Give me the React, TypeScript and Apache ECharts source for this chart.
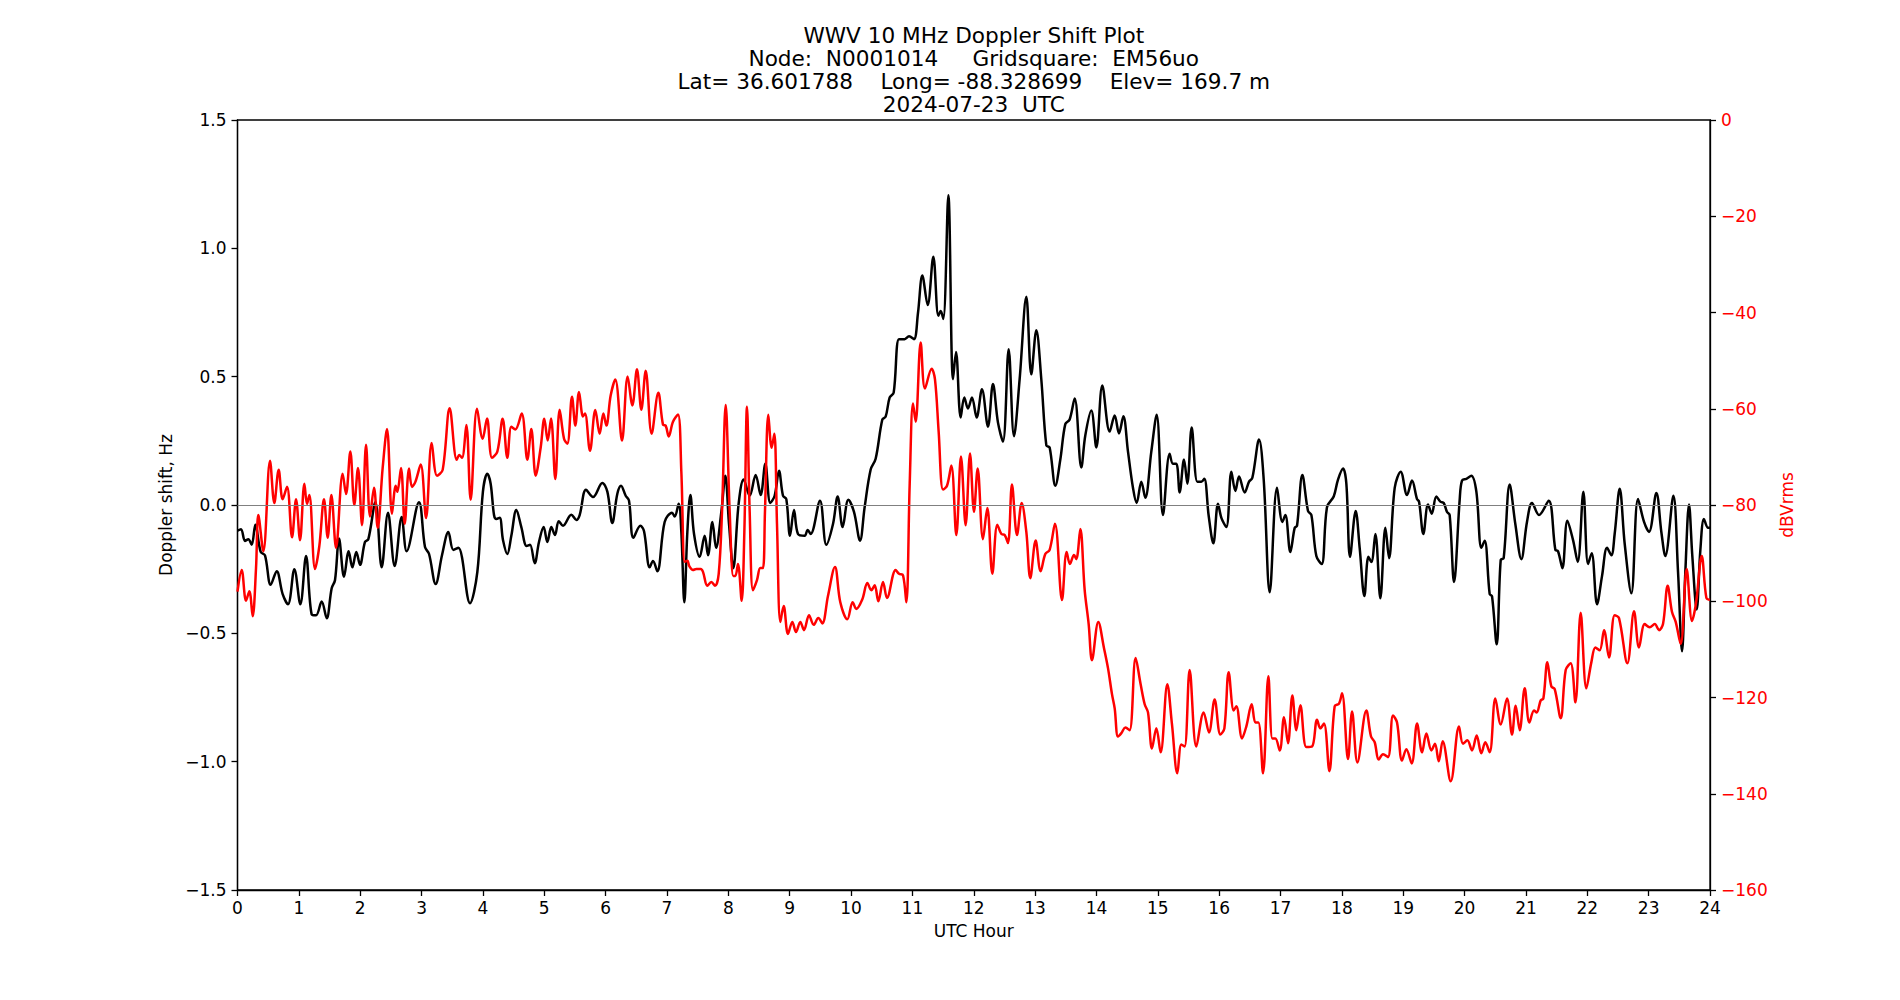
import React, { useEffect, useRef } from "react";
import * as echarts from "echarts";

// ---- Title lines ----
const titleLines: string[] = [
  "WWV 10 MHz Doppler Shift Plot",
  "Node:  N0001014     Gridsquare:  EM56uo",
  "Lat= 36.601788    Long= -88.328699    Elev= 169.7 m",
  "2024-07-23  UTC",
];

// ---- Axis settings (values) ----
const hourTicks = { min: 0, max: 24, interval: 1 };
const dopplerTicks = { min: -1.5, max: 1.5, interval: 0.5 };
const powerTicks = { min: -160, max: 0, interval: 20 };

// ---- Doppler shift (Hz) vs UTC hour (black) ----
const dopplerData: [number, number][] = [
  [0, -0.1], [0.057, -0.094], [0.122, -0.14], [0.177, -0.133], [0.231, -0.155], [0.291, -0.077], [0.378, -0.183], [0.448, -0.196],
  [0.541, -0.311], [0.639, -0.258], [0.736, -0.347], [0.823, -0.387], [0.927, -0.25], [1.024, -0.387], [1.117, -0.199], [1.209, -0.426],
  [1.28, -0.43], [1.372, -0.376], [1.454, -0.441], [1.535, -0.324], [1.589, -0.293], [1.655, -0.131], [1.736, -0.28], [1.812, -0.18],
  [1.872, -0.243], [1.937, -0.183], [1.997, -0.233], [2.078, -0.144], [2.133, -0.133], [2.247, 0.011], [2.35, -0.243], [2.453, -0.03],
  [2.562, -0.238], [2.676, -0.047], [2.757, -0.18], [2.958, 0.011], [3.056, -0.164], [3.121, -0.19], [3.23, -0.308], [3.333, -0.196],
  [3.437, -0.105], [3.518, -0.175], [3.6, -0.167], [3.79, -0.383], [3.909, -0.261],
  [4.0, 0.052], [4.072, 0.122], [4.126, 0.083], [4.181, -0.039], [4.219, -0.055], [4.273, -0.05], [4.327, -0.136], [4.398, -0.191],
  [4.463, -0.12], [4.545, -0.019], [4.626, -0.086], [4.713, -0.16], [4.768, -0.155], [4.844, -0.227], [4.914, -0.144], [4.99, -0.086],
  [5.05, -0.144], [5.115, -0.086], [5.175, -0.117], [5.235, -0.063], [5.305, -0.081], [5.441, -0.038], [5.523, -0.058], [5.577, -0.039],
  [5.68, 0.059], [5.794, 0.031], [5.946, 0.086], [6.028, 0.052], [6.109, -0.07], [6.191, 0.044], [6.251, 0.075], [6.327, 0.036],
  [6.381, 0.017], [6.452, -0.128], [6.566, -0.081], [6.626, -0.102], [6.718, -0.243], [6.772, -0.218], [6.843, -0.258], [6.962, -0.066],
  [7.082, -0.03], [7.125, -0.045], [7.191, 0.005], [7.234, -0.105], [7.283, -0.379], [7.332, -0.105], [7.381, 0.039], [7.441, -0.113],
  [7.533, -0.202], [7.614, -0.12], [7.669, -0.196], [7.74, -0.066], [7.8, -0.167], [7.886, -0.027], [7.951, 0.114],
  [8.011, -0.074], [8.081, -0.246], [8.168, 0.005], [8.25, 0.099], [8.348, 0.036], [8.445, 0.117], [8.527, 0.039], [8.603, 0.161],
  [8.684, 0.008], [8.755, 0.036], [8.826, 0.133], [8.891, 0.036], [8.945, 0.023], [9.005, -0.12], [9.07, -0.019], [9.135, -0.113],
  [9.244, -0.12], [9.293, -0.097], [9.342, -0.113], [9.494, 0.017], [9.597, -0.155], [9.706, -0.074], [9.782, 0.033], [9.863, -0.086],
  [9.956, 0.02], [10.048, -0.027], [10.146, -0.139], [10.222, -0.008], [10.32, 0.138], [10.401, 0.18], [10.51, 0.333], [10.564, 0.344],
  [10.63, 0.419], [10.695, 0.438], [10.782, 0.646], [10.874, 0.646], [10.945, 0.657], [11.026, 0.646], [11.091, 0.748], [11.162, 0.894],
  [11.249, 0.779], [11.341, 0.967], [11.423, 0.737], [11.461, 0.756], [11.504, 0.725], [11.586, 1.207], [11.662, 0.49], [11.711, 0.596],
  [11.787, 0.341], [11.846, 0.419], [11.906, 0.376],
  [11.971, 0.419], [12.047, 0.341], [12.134, 0.451], [12.232, 0.305], [12.313, 0.471], [12.395, 0.321], [12.476, 0.247], [12.569, 0.607],
  [12.656, 0.268], [12.748, 0.49], [12.857, 0.811], [12.938, 0.509], [13.02, 0.681], [13.101, 0.49], [13.183, 0.232], [13.237, 0.224],
  [13.33, 0.075], [13.411, 0.177], [13.492, 0.315], [13.563, 0.333], [13.645, 0.415], [13.753, 0.146], [13.818, 0.271], [13.916, 0.368],
  [13.998, 0.224], [14.095, 0.466], [14.215, 0.286], [14.297, 0.349], [14.367, 0.279], [14.438, 0.346], [14.514, 0.208], [14.595, 0.067],
  [14.655, 0.008], [14.731, 0.091], [14.796, 0.028], [14.894, 0.208], [14.981, 0.352], [15.084, -0.039], [15.193, 0.2], [15.247, 0.161],
  [15.302, 0.161], [15.356, 0.049], [15.427, 0.177], [15.481, 0.083], [15.552, 0.302], [15.644, 0.091], [15.709, 0.091], [15.758, 0.102],
  [15.829, -0.042], [15.905, -0.149],
  [15.981, 0.005], [16.036, -0.05], [16.117, -0.086], [16.199, 0.13], [16.264, 0.055], [16.324, 0.111], [16.416, 0.049], [16.487, 0.091],
  [16.541, 0.106], [16.65, 0.255], [16.726, 0.099], [16.824, -0.34], [16.943, 0.067], [17.03, -0.066], [17.079, -0.039], [17.16, -0.183],
  [17.231, -0.089], [17.269, -0.081], [17.356, 0.117], [17.448, -0.023], [17.503, -0.039], [17.584, -0.199], [17.671, -0.23], [17.758, -0.008],
  [17.867, 0.033], [17.937, 0.099], [18.019, 0.142], [18.073, 0.083], [18.133, -0.202], [18.225, -0.023], [18.29, -0.167], [18.367, -0.355],
  [18.432, -0.202], [18.481, -0.222], [18.546, -0.113], [18.627, -0.363], [18.709, -0.089], [18.769, -0.207], [18.861, 0.067], [18.959, 0.13],
  [19.062, 0.039], [19.143, 0.095], [19.225, 0.023], [19.258, 0.013], [19.328, -0.113], [19.404, 0.002], [19.464, -0.034], [19.54, 0.033],
  [19.605, 0.013], [19.66, 0.008], [19.714, -0.027], [19.757, -0.039], [19.828, -0.3], [19.92, 0.02],
  [19.958, 0.095], [20.029, 0.102], [20.11, 0.114], [20.192, 0.052], [20.273, -0.167], [20.328, -0.139], [20.409, -0.347], [20.447, -0.355],
  [20.523, -0.543], [20.589, -0.214], [20.637, -0.207], [20.735, 0.08], [20.827, -0.074], [20.925, -0.211], [21.017, -0.066], [21.099, 0.008],
  [21.213, -0.039], [21.371, 0.017], [21.48, -0.175], [21.523, -0.18], [21.594, -0.246], [21.675, -0.061], [21.767, -0.136], [21.844, -0.222],
  [21.936, 0.052], [22.012, -0.23], [22.072, -0.188], [22.159, -0.387], [22.24, -0.277], [22.322, -0.167], [22.392, -0.196], [22.446, -0.113],
  [22.528, 0.063], [22.61, -0.152], [22.718, -0.344], [22.827, 0.023], [22.925, -0.066], [23.006, -0.105], [23.126, 0.047], [23.207, -0.105],
  [23.272, -0.199], [23.403, 0.036], [23.479, -0.261], [23.544, -0.57], [23.598, -0.261], [23.658, 0.002], [23.712, -0.199], [23.783, -0.407],
  [23.843, -0.175], [23.902, -0.055], [23.968, -0.089], [24.0, -0.089],
];

// ---- Signal level (dBVrms) vs UTC hour (red) ----
const powerData: [number, number][] = [
  [0, -98], [0.068, -93.5], [0.139, -99.9], [0.193, -97.9], [0.247, -103.1], [0.302, -93.1], [0.34, -82.1], [0.421, -89.6],
  [0.53, -70.8], [0.6, -79.6], [0.671, -72.7], [0.736, -78.8], [0.807, -76.2], [0.889, -86.7], [0.954, -78.8], [1.019, -87.3],
  [1.09, -75.6], [1.133, -79.8], [1.171, -77.9], [1.264, -93.3], [1.334, -88.5], [1.41, -78.8], [1.47, -86.8], [1.53, -77.9],
  [1.606, -88.9], [1.714, -73.5], [1.769, -77.7], [1.839, -68.9], [1.904, -80], [1.964, -72.3], [2.03, -84.2], [2.095, -67.5],
  [2.16, -82.4], [2.225, -76.4], [2.285, -84.75], [2.366, -72.3], [2.437, -64.2], [2.518, -81.8], [2.578, -76], [2.605, -77.25],
  [2.665, -72.3], [2.725, -83.9], [2.796, -72.4], [2.844, -76.25], [2.899, -75.2], [2.986, -71.6], [3.073, -82.7], [3.165, -67.1],
  [3.252, -73.9], [3.344, -72.7], [3.458, -59.9], [3.573, -70.6], [3.616, -69.6], [3.66, -70.2], [3.73, -63.4], [3.8, -78.9],
  [3.904, -60],
  [3.996, -66.25], [4.067, -62], [4.148, -70.2], [4.235, -68.9], [4.322, -62.1], [4.398, -70.2], [4.463, -63.75], [4.528, -64.3],
  [4.632, -61], [4.724, -70.6], [4.789, -64.2], [4.86, -73.9], [4.941, -68.1], [5.001, -62.1], [5.056, -66.6], [5.11, -62],
  [5.18, -74.6], [5.251, -60.2], [5.322, -66.25], [5.376, -67.25], [5.452, -57.5], [5.506, -63.5], [5.566, -56.5], [5.631, -61.6],
  [5.664, -61], [5.745, -68.75], [5.832, -60.25], [5.903, -65.2], [5.963, -61], [6.012, -63.5], [6.082, -57.25], [6.158, -53.9],
  [6.267, -66.6], [6.359, -53.3], [6.436, -59.3], [6.511, -51.8], [6.582, -60.2], [6.653, -52.1], [6.75, -65.2], [6.859, -56.7],
  [6.935, -63.3], [6.979, -63.5], [7.028, -65.75], [7.098, -62.7], [7.18, -61.2], [7.234, -73.1], [7.289, -91.8], [7.332, -91.6],
  [7.364, -92.7], [7.424, -93.5], [7.479, -93.3], [7.55, -93.3], [7.587, -93.9], [7.658, -96.8], [7.723, -96], [7.783, -96.8],
  [7.843, -94.3], [7.897, -81.4], [7.957, -59.2],
  [8.022, -81.4], [8.081, -94.75], [8.114, -94.75], [8.157, -92.25], [8.217, -99.9], [8.261, -85.6], [8.304, -59.6], [8.348, -81.4],
  [8.402, -97.7], [8.467, -95.6], [8.521, -93.1], [8.565, -93.1], [8.597, -81.4], [8.652, -61.25], [8.706, -68.1], [8.75, -65.2],
  [8.793, -83.9], [8.848, -104.3], [8.902, -101], [8.972, -106.8], [9.043, -104.3], [9.103, -106.4], [9.173, -104.3], [9.233, -106],
  [9.315, -102.9], [9.391, -104.9], [9.467, -103.5], [9.532, -104.6], [9.624, -98.9], [9.738, -92.9], [9.825, -100.2], [9.94, -103.75],
  [10.026, -100.2], [10.086, -101.6], [10.184, -99.6], [10.266, -96.2], [10.331, -97.7], [10.385, -96.7], [10.445, -100], [10.521, -96],
  [10.586, -99.3], [10.727, -93.5], [10.782, -94.3], [10.847, -94.6], [10.901, -100.2], [10.956, -75.6], [11.01, -58.9], [11.053, -62.7],
  [11.135, -46.25], [11.205, -55.8], [11.314, -51.7], [11.368, -53.9], [11.428, -64.75], [11.499, -76.8], [11.564, -76], [11.635, -71.8],
  [11.716, -86.25], [11.792, -69.9], [11.868, -84.2], [11.939, -69.3],
  [12.004, -81.4], [12.064, -72.4], [12.15, -87.1], [12.221, -80.6], [12.303, -94.3], [12.384, -84.1], [12.449, -86], [12.504, -86.25],
  [12.558, -87.9], [12.623, -75.75], [12.705, -86.25], [12.781, -79.6], [12.857, -85.6], [12.922, -95.2], [13.009, -87.4], [13.09, -93.75],
  [13.166, -90.2], [13.237, -89.3], [13.324, -83.9], [13.438, -99.75], [13.514, -89.75], [13.568, -92.25], [13.634, -90.4], [13.672, -91.25],
  [13.737, -85], [13.808, -97.7], [13.873, -104.75], [13.927, -112.25], [14.03, -104.3], [14.123, -109.75], [14.188, -113.9], [14.253, -119.3],
  [14.297, -122.25], [14.351, -128.1], [14.406, -127.4], [14.471, -126.25], [14.541, -126.8], [14.639, -111.8], [14.72, -117.25], [14.786, -121.4],
  [14.84, -123.1], [14.905, -130.6], [14.976, -126.4], [15.046, -131.4], [15.155, -117.25], [15.231, -125.6], [15.318, -135.75], [15.383, -129.75],
  [15.437, -130.2], [15.519, -114.3], [15.628, -130.2], [15.747, -123.1], [15.834, -127.25], [15.926, -120.4],
  [16.02, -127.7], [16.085, -126.4], [16.155, -114.75], [16.237, -122.7], [16.28, -121.8], [16.373, -128.5], [16.443, -126], [16.53, -121.4],
  [16.59, -125.2], [16.639, -125.2], [16.715, -135.75], [16.802, -115.6], [16.867, -128.5], [16.916, -128.5], [16.987, -131], [17.057, -124.1],
  [17.122, -129.5], [17.193, -119.6], [17.258, -126.8], [17.323, -121.6], [17.421, -130.3], [17.514, -130.2], [17.595, -124.6], [17.649, -126.4],
  [17.709, -125.4], [17.796, -135.3], [17.883, -121.8], [17.954, -121.25], [18.003, -119.1], [18.1, -132.8], [18.166, -122.9], [18.253, -133.5],
  [18.399, -122.7], [18.475, -128.1], [18.535, -129.3], [18.6, -132.9], [18.671, -131.8], [18.752, -132.4], [18.834, -123.75], [18.899, -125.2],
  [18.98, -133.1], [19.051, -130.75], [19.138, -133.7], [19.225, -125.4], [19.307, -131.4], [19.377, -127.5], [19.459, -131], [19.518, -129.6],
  [19.578, -133.25], [19.643, -129.1], [19.774, -137.4], [19.909, -126],
  [19.974, -129.6], [20.045, -128.9], [20.121, -131], [20.197, -127.9], [20.273, -131.6], [20.338, -129.3], [20.409, -131.4], [20.501, -120.2],
  [20.589, -125.6], [20.692, -120.2], [20.773, -127.7], [20.833, -121.7], [20.898, -126.8], [20.98, -118.1], [21.056, -125.2], [21.132, -122.7],
  [21.175, -123.1], [21.241, -120.6], [21.284, -120.2], [21.349, -112.7], [21.414, -117.7], [21.469, -118.25], [21.566, -124.3], [21.648, -114.3],
  [21.729, -112.9], [21.806, -121], [21.892, -102.4], [21.985, -118.1], [22.066, -112.7], [22.132, -109.6], [22.202, -110.2], [22.273, -106],
  [22.354, -111.7], [22.446, -102.9], [22.517, -103.5], [22.653, -112.9], [22.762, -102.1], [22.843, -109.6], [22.936, -104.75], [23.017, -105.4],
  [23.099, -104.75], [23.169, -106], [23.234, -104.75], [23.31, -96.8], [23.381, -102.25], [23.441, -104.3], [23.522, -108.9], [23.62, -93.3],
  [23.707, -104.1], [23.772, -100.4], [23.865, -90.6], [23.941, -99.3], [24.0, -99.75],
];

const FONT = "'DejaVu Sans', 'Liberation Sans', sans-serif";
const TICK_SIZE = 17;

function fmt(v: number, digits: number): string {
  if (Math.abs(v) < 1e-9) return (0).toFixed(digits);
  return v < 0 ? "\u2212" + Math.abs(v).toFixed(digits) : v.toFixed(digits);
}

export default function App() {
  const ref = useRef<HTMLDivElement>(null);

  useEffect(() => {
    if (!ref.current) return;
    const chart = echarts.init(ref.current, null, { renderer: "svg" });
    const plotCenterX = 237.5 + (1710 - 237.5) / 2;
    const titleY = [35.5, 58.5, 81.5, 104.5];

    chart.setOption({
      animation: false,
      backgroundColor: "#ffffff",
      textStyle: { fontFamily: FONT },
      grid: {
        left: 237.5,
        right: 190,
        top: 120,
        bottom: 110,
        show: true,
        borderColor: "#000",
        borderWidth: 1.3,
        backgroundColor: "transparent",
      },
      graphic: titleLines.map((t, i) => ({
        type: "text",
        x: plotCenterX,
        y: titleY[i],
        silent: true,
        style: {
          text: t,
          fill: "#000",
          fontSize: 21.6,
          fontFamily: FONT,
          textAlign: "center",
          textVerticalAlign: "middle",
          align: "center",
          verticalAlign: "middle",
        },
      })),
      xAxis: {
        type: "value",
        min: hourTicks.min,
        max: hourTicks.max,
        interval: hourTicks.interval,
        name: "UTC Hour",
        nameLocation: "middle",
        nameGap: 32,
        nameTextStyle: { color: "#000", fontSize: TICK_SIZE, fontFamily: FONT },
        axisLine: { show: true, onZero: false, lineStyle: { color: "#000", width: 1.3 } },
        axisTick: { show: true, inside: false, length: 6, lineStyle: { color: "#000", width: 1.3 } },
        axisLabel: { color: "#000", fontSize: TICK_SIZE, fontFamily: FONT, margin: 9 },
        splitLine: { show: false },
      },
      yAxis: [
        {
          type: "value",
          position: "left",
          min: dopplerTicks.min,
          max: dopplerTicks.max,
          interval: dopplerTicks.interval,
          name: "Doppler shift, Hz",
          nameLocation: "middle",
          nameRotate: 90,
          nameGap: 62,
          nameTextStyle: { color: "#000", fontSize: TICK_SIZE, fontFamily: FONT },
          axisLine: { show: true, onZero: false, lineStyle: { color: "#000", width: 1.3 } },
          axisTick: { show: true, inside: false, length: 6, lineStyle: { color: "#000", width: 1.3 } },
          axisLabel: { color: "#000", fontSize: TICK_SIZE, fontFamily: FONT, margin: 11, formatter: (v: number) => fmt(v, 1) },
          splitLine: { show: false },
        },
        {
          type: "value",
          position: "right",
          min: powerTicks.min,
          max: powerTicks.max,
          interval: powerTicks.interval,
          name: "dBVrms",
          nameLocation: "middle",
          nameRotate: 90,
          nameGap: 59,
          nameTextStyle: { color: "#ff0000", fontSize: TICK_SIZE, fontFamily: FONT },
          axisLine: { show: true, onZero: false, lineStyle: { color: "#000", width: 1.3 } },
          axisTick: { show: true, inside: false, length: 6, lineStyle: { color: "#000", width: 1.3 } },
          axisLabel: { color: "#ff0000", fontSize: TICK_SIZE, fontFamily: FONT, margin: 11, formatter: (v: number) => fmt(v, 0) },
          splitLine: { show: false },
        },
      ],
      series: [
        {
          name: "zero",
          type: "line",
          yAxisIndex: 0,
          data: [],
          silent: true,
          markLine: {
            silent: true,
            symbol: "none",
            label: { show: false },
            lineStyle: { color: "#808080", width: 1.2, type: "solid" },
            data: [{ yAxis: 0 }],
          },
        },
        {
          name: "Doppler shift",
          type: "line",
          yAxisIndex: 0,
          data: dopplerData,
          showSymbol: false,
          smooth: 0.35,
          lineStyle: { color: "#000", width: 2.5 },
          itemStyle: { color: "#000" },
        },
        {
          name: "dBVrms",
          type: "line",
          yAxisIndex: 1,
          data: powerData,
          showSymbol: false,
          smooth: 0.35,
          lineStyle: { color: "#ff0000", width: 2.5 },
          itemStyle: { color: "#ff0000" },
        },
      ],
    });

    return () => chart.dispose();
  }, []);

  return (
    <div
      ref={ref}
      style={{ position: "fixed", left: 0, top: 0, width: 1900, height: 1000, background: "#fff" }}
    />
  );
}
